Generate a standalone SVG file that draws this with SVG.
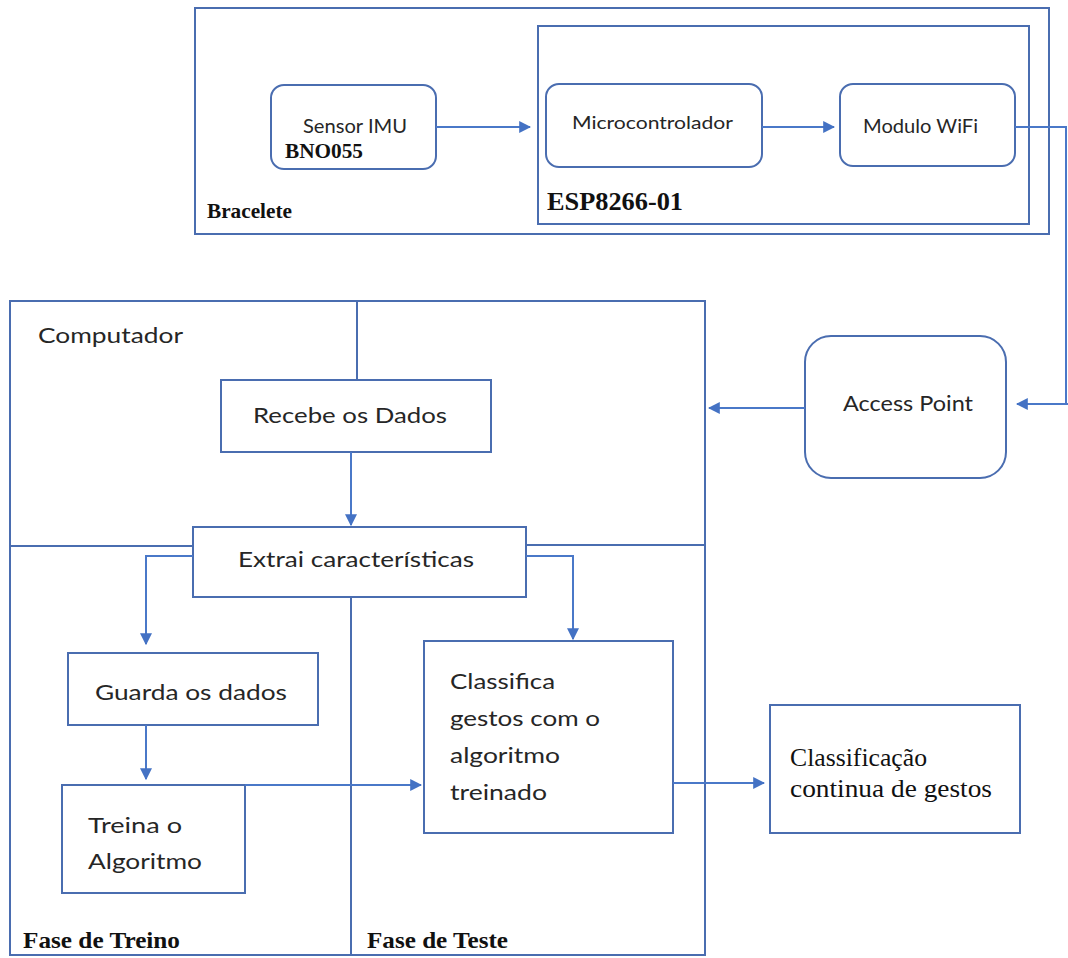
<svg xmlns="http://www.w3.org/2000/svg" width="1068" height="958" viewBox="0 0 1068 958">
  <defs>
    <marker id="ah" viewBox="0 0 10 10" refX="9" refY="5" markerWidth="12" markerHeight="12" markerUnits="userSpaceOnUse" orient="auto">
      <path d="M0,0 L10,5 L0,10 z" fill="#4472c4"/>
    </marker>
    <style>
      .frame { fill: none; stroke: #4a6db0; stroke-width: 2; }
      .box { fill: #ffffff; stroke: #4a6db0; stroke-width: 2; }
      .conn { fill: none; stroke: #4a78c8; stroke-width: 2; }
      .arrow { fill: none; stroke: #4a78c8; stroke-width: 2; marker-end: url(#ah); }
      .sans { font-family: Lato, "Open Sans", "Liberation Sans", sans-serif; fill: #262626; }
      .serifb { font-family: "Liberation Serif", serif; font-weight: bold; fill: #111111; }
      .serif { font-family: "Liberation Serif", serif; fill: #111111; }
    </style>
  </defs>
  <rect width="1068" height="958" fill="#ffffff"/>

  <!-- Bracelete container -->
  <g id="bracelete">
    <rect class="frame" x="195" y="8" width="854" height="226"/>
    <text class="serifb" x="207" y="218" font-size="21" textLength="85" lengthAdjust="spacingAndGlyphs">Bracelete</text>
  </g>

  <!-- ESP8266 container -->
  <g id="esp8266">
    <rect class="frame" x="538" y="26" width="491" height="198"/>
    <text class="serifb" x="547" y="210" font-size="26" textLength="136" lengthAdjust="spacingAndGlyphs">ESP8266-01</text>
  </g>

  <g id="sensor">
    <rect class="box" x="271" y="85" width="165" height="84" rx="13"/>
    <text class="sans" x="303" y="133" font-size="20" textLength="104" lengthAdjust="spacingAndGlyphs">Sensor IMU</text>
    <text class="serifb" x="285" y="158" font-size="21" textLength="78" lengthAdjust="spacingAndGlyphs">BNO055</text>
  </g>

  <g id="micro">
    <rect class="box" x="546" y="84" width="216" height="83" rx="13"/>
    <text class="sans" x="572" y="129" font-size="18" textLength="161" lengthAdjust="spacingAndGlyphs">Microcontrolador</text>
  </g>

  <g id="wifi">
    <rect class="box" x="840" y="84" width="175" height="82" rx="13"/>
    <text class="sans" x="863" y="133" font-size="20" textLength="115" lengthAdjust="spacingAndGlyphs">Modulo WiFi</text>
  </g>

  <!-- Computador container with phase dividers -->
  <g id="computador">
    <rect class="frame" x="10" y="301" width="695" height="654"/>
    <line class="frame" x1="10" y1="546" x2="193" y2="546"/>
    <line class="frame" x1="526" y1="545" x2="705" y2="545"/>
    <line class="frame" x1="357" y1="301" x2="357" y2="380"/>
    <line class="frame" x1="351" y1="597" x2="351" y2="955"/>
    <text class="sans" x="38" y="343" font-size="22" textLength="145" lengthAdjust="spacingAndGlyphs">Computador</text>
    <text class="serifb" x="23" y="948" font-size="24" textLength="157" lengthAdjust="spacingAndGlyphs">Fase de Treino</text>
    <text class="serifb" x="367" y="948" font-size="24" textLength="141" lengthAdjust="spacingAndGlyphs">Fase de Teste</text>
  </g>

  <g id="recebe">
    <rect class="box" x="221" y="380" width="270" height="72"/>
    <text class="sans" x="253" y="423" font-size="22" textLength="194" lengthAdjust="spacingAndGlyphs">Recebe os Dados</text>
  </g>

  <g id="extrai">
    <rect class="box" x="193" y="527" width="333" height="70"/>
    <text class="sans" x="238" y="567" font-size="22" textLength="236" lengthAdjust="spacingAndGlyphs">Extrai características</text>
  </g>

  <g id="guarda">
    <rect class="box" x="68" y="653" width="250" height="72"/>
    <text class="sans" x="95" y="700" font-size="22" textLength="192" lengthAdjust="spacingAndGlyphs">Guarda os dados</text>
  </g>

  <g id="treina">
    <rect class="box" x="62" y="785" width="183" height="108"/>
    <text class="sans" x="88" y="833" font-size="22" textLength="94" lengthAdjust="spacingAndGlyphs">Treina o</text>
    <text class="sans" x="88" y="869" font-size="22" textLength="114" lengthAdjust="spacingAndGlyphs">Algoritmo</text>
  </g>

  <g id="classifica">
    <rect class="box" x="424" y="641" width="249" height="192"/>
    <text class="sans" x="450" y="689" font-size="22" textLength="105" lengthAdjust="spacingAndGlyphs">Classifica</text>
    <text class="sans" x="450" y="726" font-size="22" textLength="150" lengthAdjust="spacingAndGlyphs">gestos com o</text>
    <text class="sans" x="450" y="763" font-size="22" textLength="110" lengthAdjust="spacingAndGlyphs">algoritmo</text>
    <text class="sans" x="450" y="800" font-size="22" textLength="97" lengthAdjust="spacingAndGlyphs">treinado</text>
  </g>

  <g id="access-point">
    <rect class="box" x="805" y="336" width="201" height="142" rx="26"/>
    <text class="sans" x="843" y="411" font-size="21" textLength="130" lengthAdjust="spacingAndGlyphs">Access Point</text>
  </g>

  <g id="resultado">
    <rect class="box" x="770" y="705" width="250" height="128"/>
    <text class="serif" x="790" y="766" font-size="26" textLength="137" lengthAdjust="spacingAndGlyphs">Classificação</text>
    <text class="serif" x="790" y="797" font-size="26" textLength="202" lengthAdjust="spacingAndGlyphs">continua de gestos</text>
  </g>

  <!-- Connectors -->
  <g id="connectors">
    <line class="arrow" x1="436" y1="127" x2="530" y2="127"/>
    <line class="arrow" x1="762" y1="127" x2="834" y2="127"/>
    <polyline class="conn" points="1015,127 1066,127 1066,404"/>
    <line class="arrow" x1="1068" y1="404" x2="1017" y2="404"/>
    <line class="arrow" x1="805" y1="408" x2="709" y2="408"/>
    <line class="arrow" x1="351" y1="452" x2="351" y2="525"/>
    <polyline class="arrow" points="193,556 146,556 146,644"/>
    <polyline class="arrow" points="526,556 573,556 573,639"/>
    <line class="arrow" x1="146" y1="725" x2="146" y2="779"/>
    <line class="arrow" x1="245" y1="785" x2="421" y2="785"/>
    <line class="arrow" x1="673" y1="783" x2="764" y2="783"/>
  </g>
</svg>
